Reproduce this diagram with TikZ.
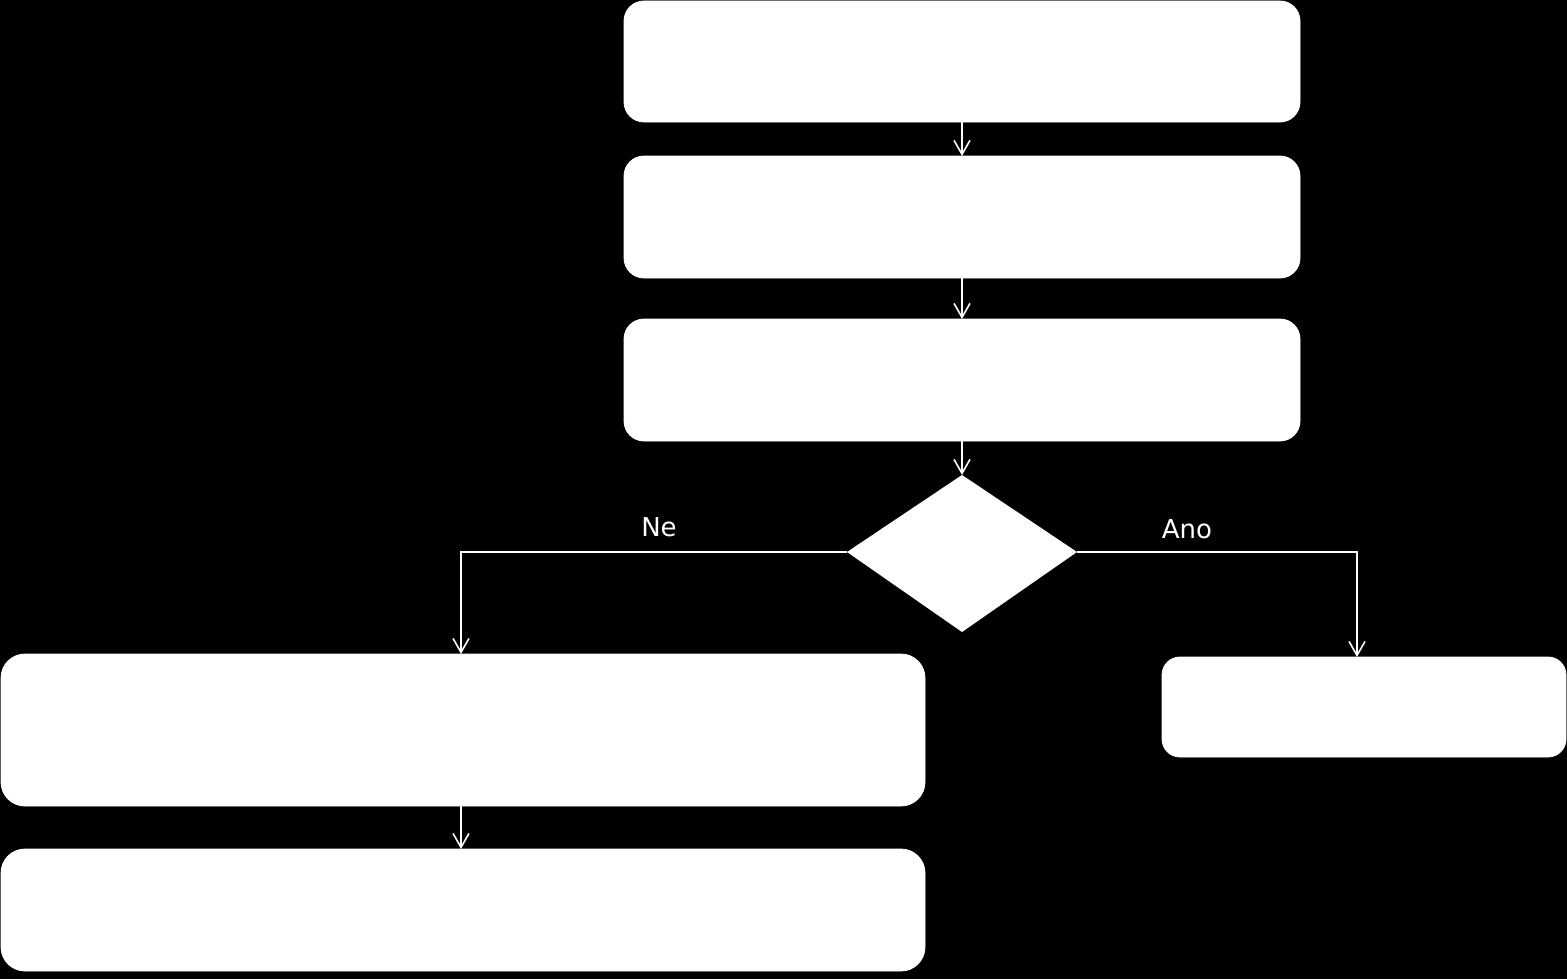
\documentclass[tikz,border=0pt]{standalone}
\usepackage{fontspec}
\setmainfont{DejaVu Sans}
\usetikzlibrary{arrows.meta,shapes.geometric}
\begin{document}
\begin{tikzpicture}[x=0.5pt,y=-0.5pt,
  box/.style={fill=white,draw=white,rounded corners=#1},
  conn/.style={draw=white,line width=1pt,-{Straight Barb[length=7pt,width=8pt,line width=0.8pt]}},
  lbl/.style={text=white,font=\fontsize{13}{15}\selectfont,inner sep=0pt}]
\fill[black] (0,0) rectangle (1567,979);
\useasboundingbox (0,0) rectangle (1567,979);
% boxes
\path[box=10pt] (624,1) rectangle (1300,122);
\coordinate (b1s) at (962,122);
\path[box=10pt] (624,156) rectangle (1300,278);
\coordinate (b2n) at (962,156); \coordinate (b2s) at (962,278);
\path[box=10pt] (624,319) rectangle (1300,441);
\coordinate (b3n) at (962,319); \coordinate (b3s) at (962,441);
\path[fill=white] (962,475) -- (1077,552) -- (962,632) -- (847,552) -- cycle;
\coordinate (dn) at (962,475); \coordinate (dw) at (847,552); \coordinate (de) at (1077,552);
\path[box=12pt] (1,654) rectangle (925,806);
\coordinate (b4n) at (461,654); \coordinate (b4s) at (461,806);
\path[box=12pt] (1,849) rectangle (925,971);
\coordinate (b5n) at (461,849);
\path[box=9pt] (1162,657) rectangle (1566,757);
\coordinate (b6n) at (1357,657);
% connectors
\draw[conn] (b1s) -- (b2n);
\draw[conn] (b2s) -- (b3n);
\draw[conn] (b3s) -- (dn);
\draw[conn] (dw) -- (461,552) -- (b4n);
\draw[conn] (de) -- (1357,552) -- (b6n);
\draw[conn] (b4s) -- (b5n);
% labels
\node[lbl] (ne) at (659,527) {Ne};
\node[lbl] (ano) at (1187,529) {Ano};
\end{tikzpicture}
\end{document}
